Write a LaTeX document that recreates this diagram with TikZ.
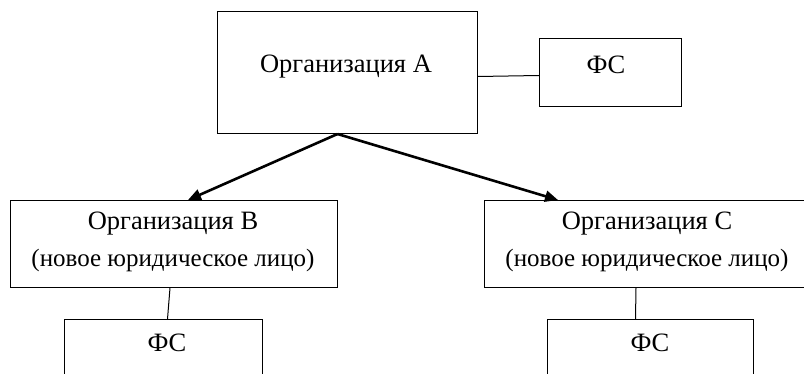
\documentclass[tikz,border=0pt]{standalone}
\usepackage{fontspec}
\setmainfont{Liberation Serif}
\usetikzlibrary{arrows.meta,calc}
\begin{document}
\begin{tikzpicture}[x=1pt,y=-1pt,
  box/.style={draw, line width=1pt, rectangle, inner sep=0pt, anchor=north west},
  txt/.style={font=\fontsize{26.5}{37}\selectfont, align=center, inner sep=0pt},
  link/.style={line width=1pt},
  arr/.style={line width=2.6pt, -{Stealth[length=13pt,width=11pt,inset=0pt]}}]
\useasboundingbox (0,0) rectangle (804,374);
\clip (0,0) rectangle (804,374);
% boxes
\node[box, minimum width=260, minimum height=122] (a) at (217,11) {};
\node[txt] (at) at (346,67) {Организация А};
\node[box, minimum width=142, minimum height=68] (fa) at (539,38) {};
\node[txt] (fat) at (606,65) {ФС};
\node[box, minimum width=327, minimum height=87] (b) at (10,200) {};
\node[txt] (bt) at (173,242) {Организация В\\{\fontsize{25}{30}\selectfont(новое юридическое лицо)}};
\node[box, minimum width=327, minimum height=87] (c) at (484,200) {};
\node[txt] (ct) at (647,242) {Организация С\\{\fontsize{25}{30}\selectfont(новое юридическое лицо)}};
\node[box, minimum width=198, minimum height=80] (fb) at (64,319) {};
\node[txt] (fbt) at (167,343) {ФС};
\node[box, minimum width=206, minimum height=80] (fc) at (547,319) {};
\node[txt] (fct) at (650,343) {ФС};
% connectors
\coordinate (as) at ($(a.south)+(-10,0)$);
\draw[link] ([yshift=-4]a.east) -- ([yshift=-3]fa.west);
\draw[arr] (as) -- ([xshift=14]b.north);
\draw[arr] (as) -- ([xshift=-90]c.north);
\draw[link] ([xshift=-4]b.south) -- ([xshift=4]fb.north);
\draw[link] ([xshift=-12]c.south) -- ([xshift=-15]fc.north);
\end{tikzpicture}
\end{document}
